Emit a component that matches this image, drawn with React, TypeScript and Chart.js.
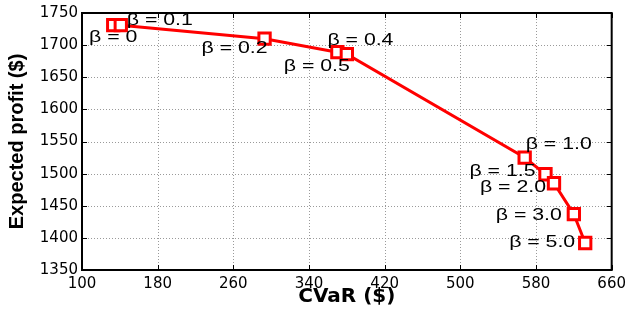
import React, { useEffect, useRef } from "react";
import { Chart, registerables } from "chart.js";

Chart.register(...registerables);

const betaLabels = ["β = 0", "β = 0.1", "β = 0.2", "β = 0.4", "β = 0.5", "β = 1.0", "β = 1.5", "β = 2.0", "β = 3.0", "β = 5.0"];
const cvarValues = [133, 141, 293, 370, 380, 568, 590, 599, 620, 632];
const profitValues = [1731, 1731, 1710, 1689, 1686, 1525, 1499, 1485, 1437, 1392];
const xTicks = [100, 180, 260, 340, 420, 500, 580, 660];
const yTicks = [1350, 1400, 1450, 1500, 1550, 1600, 1650, 1700, 1750];

// label placement relative to point (px offsets, alignment)
const labelOffsets: [number, number, CanvasTextAlign][] = [
  [0, 12, "center"],
  [6, -5, "left"],
  [3, 10, "right"],
  [-10, -12, "left"],
  [3, 12, "right"],
  [1, -13, "left"],
  [-10, -3, "right"],
  [-8, 4, "right"],
  [-12, 1, "right"],
  [-10, 0, "right"],
];

const STRETCH = 1.33;

const gridPlugin = {
  id: "dotgrid",
  beforeDatasetsDraw(chart: any) {
    const { ctx, chartArea: a, scales } = chart;
    ctx.save();
    ctx.strokeStyle = "#9a9a9a";
    ctx.lineWidth = 1;
    ctx.setLineDash([1, 2]);
    xTicks.slice(1, -1).forEach((v) => {
      const px = Math.round(scales.x.getPixelForValue(v)) + 0.5;
      ctx.beginPath();
      ctx.moveTo(px, a.top);
      ctx.lineTo(px, a.bottom);
      ctx.stroke();
    });
    yTicks.slice(1, -1).forEach((v) => {
      const py = Math.round(scales.y.getPixelForValue(v)) + 0.5;
      ctx.beginPath();
      ctx.moveTo(a.left, py);
      ctx.lineTo(a.right, py);
      ctx.stroke();
    });
    ctx.restore();
  },
};

const frame = {
  id: "frame",
  afterDatasetsDraw(chart: any) {
    const { ctx, chartArea: a, scales } = chart;
    ctx.save();
    ctx.strokeStyle = "#000";
    ctx.lineWidth = 1;
    const tl = 5;
    xTicks.forEach((v) => {
      const px = Math.round(scales.x.getPixelForValue(v)) + 0.5;
      ctx.beginPath();
      ctx.moveTo(px, a.bottom);
      ctx.lineTo(px, a.bottom - tl);
      ctx.moveTo(px, a.top);
      ctx.lineTo(px, a.top + tl);
      ctx.stroke();
    });
    yTicks.forEach((v) => {
      const py = Math.round(scales.y.getPixelForValue(v)) + 0.5;
      ctx.beginPath();
      ctx.moveTo(a.left, py);
      ctx.lineTo(a.left + tl, py);
      ctx.moveTo(a.right, py);
      ctx.lineTo(a.right - tl, py);
      ctx.stroke();
    });
    ctx.lineWidth = 2;
    ctx.strokeRect(a.left, a.top, a.right - a.left, a.bottom - a.top);
    // beta labels
    ctx.fillStyle = "#000";
    ctx.font = "16px 'Liberation Sans', Arial, sans-serif";
    ctx.textBaseline = "middle";
    betaLabels.forEach((t, i) => {
      const px = scales.x.getPixelForValue(cvarValues[i]);
      const py = scales.y.getPixelForValue(profitValues[i]);
      const [dx, dy, al] = labelOffsets[i];
      ctx.save();
      ctx.translate(px + dx, py + dy);
      ctx.scale(STRETCH, 1);
      ctx.textAlign = al;
      ctx.fillText(t, 0, 0);
      ctx.restore();
    });
    ctx.restore();
  },
};

export default function App() {
  const ref = useRef<HTMLCanvasElement>(null);
  useEffect(() => {
    document.body.style.margin = "0";
    const chart = new Chart(ref.current!, {
      type: "line",
      data: {
        datasets: [
          {
            data: cvarValues.map((x, i) => ({ x, y: profitValues[i] })),
            borderColor: "#ff0000",
            borderWidth: 3,
            pointStyle: "rect",
            pointRadius: 8,
            pointBorderWidth: 3,
            pointBorderColor: "#ff0000",
            pointBackgroundColor: "#ffffff",
            tension: 0,
            clip: false,
          },
        ],
      },
      options: {
        animation: false,
        responsive: false,
        layout: { padding: { top: 11, right: 18, left: 0, bottom: 0 } },
        plugins: { legend: { display: false }, tooltip: { enabled: false } },
        scales: {
          x: {
            type: "linear",
            min: 100,
            max: 660,
            afterBuildTicks: (s: any) => {
              s.ticks = xTicks.map((v) => ({ value: v }));
            },
            afterFit: (s: any) => {
              s.height = 39;
            },
            ticks: {
              color: "#000",
              padding: 5,
              callback: (v: any) => String(v),
              font: { family: "'DejaVu Sans', sans-serif", size: 15 },
            },
            grid: { display: false, drawTicks: false },
            border: { display: false },
            title: {
              display: true,
              text: "CVaR ($)",
              color: "#000",
              padding: { top: 0, bottom: 0 },
              font: { family: "'DejaVu Sans', sans-serif", size: 20, weight: "bold" },
            },
          },
          y: {
            type: "linear",
            min: 1350,
            max: 1750,
            afterBuildTicks: (s: any) => {
              s.ticks = yTicks.map((v) => ({ value: v }));
            },
            afterFit: (s: any) => {
              s.width = 82;
            },
            ticks: {
              color: "#000",
              padding: 4,
              callback: (v: any) => String(v),
              font: { family: "'DejaVu Sans', sans-serif", size: 15 },
            },
            grid: { display: false, drawTicks: false },
            border: { display: false },
            title: {
              display: true,
              text: "Expected profit ($)",
              color: "#000",
              padding: { top: 5, bottom: 0 },
              font: { family: "'Liberation Sans', Arial, sans-serif", size: 20, weight: "bold" },
            },
          },
        },
      },
      plugins: [gridPlugin, frame],
    });
    return () => chart.destroy();
  }, []);
  return (
    <div style={{ width: 631, height: 309 }}>
      <canvas ref={ref} width={631} height={309} />
    </div>
  );
}
